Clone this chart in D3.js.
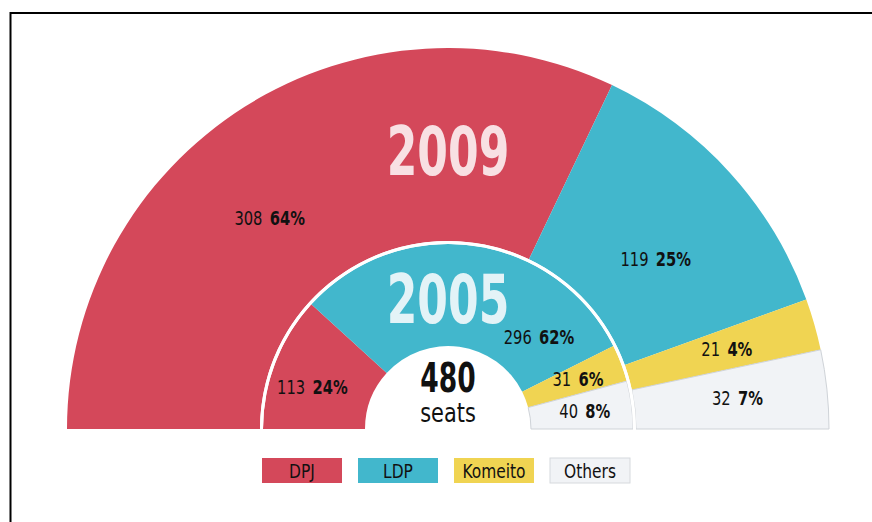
<!DOCTYPE html>
<html>
<head>
<meta charset="utf-8">
<script src="https://cdn.jsdelivr.net/npm/d3@7"></script>
<style>
body { margin: 0; background: #fff; }
svg { display: block; font-family: "DejaVu Sans", sans-serif; font-stretch: condensed; }
</style>
</head>
<body>
<script>
// data
var parties = ['DPJ', 'LDP', 'Komeito', 'Others'];
var colors = ['#d4485a', '#42b7cc', '#f0d452', '#f1f3f6'];
var seats2009 = [308, 119, 21, 32];
var seats2005 = [113, 296, 31, 40];
var totalSeats = 480;

var svg = d3.select('body')
    .append('svg')
    .attr('width', 872)
    .attr('height', 522);

// frame
svg.append('path')
    .attr('d', 'M10.5,530V13H880')
    .attr('fill', 'none')
    .attr('stroke', '#000')
    .attr('stroke-width', 2);

var cx = 448, cy = 429;
var g = svg.append('g').attr('transform', 'translate(' + cx + ',' + cy + ')');

// squeeze text horizontally to get the narrow newspaper look
var narrowBold = 0.72, narrowReg = 0.86;
function place(sel, x, y, sx) {
    return sel.attr('transform', 'translate(' + x + ',' + y + ') scale(' + sx + ',1)');
}

var pie = d3.pie().sort(null)
    .startAngle(-Math.PI / 2)
    .endAngle(Math.PI / 2)
    .value(function (d) { return d; });

// ring geometry + label tweaks (angle shift in degrees, label radius)
var rings = [
    {year: '2009', values: seats2009, inner: 188, outer: 381, labelRs: [276, 268, 290, 291], shift: [-8, 3, 0, 0], yearY: -254},
    {year: '2005', values: seats2005, inner: 83, outer: 185, labelRs: [142, 129, 139, 138], shift: [-4, 37, 0, 0], yearY: -106}
];

var pct = function (v) { return Math.round(v / totalSeats * 100) + '%'; };

rings.forEach(function (ring) {
    var arcs = pie(ring.values);
    var arc = d3.arc().innerRadius(ring.inner).outerRadius(ring.outer);

    g.append('g')
        .selectAll('path')
        .data(arcs)
        .enter()
        .append('path')
        .attr('d', arc)
        .attr('fill', function (d, i) { return colors[i]; })
        .attr('stroke', function (d, i) { return i === 3 ? '#cfd3d8' : 'none'; })
        .attr('stroke-width', 1);

    // labels
    arcs.forEach(function (d, i) {
        var a = (d.startAngle + d.endAngle) / 2 + ring.shift[i] * Math.PI / 180;
        var r = ring.labelRs[i];
        var p = d3.arc().innerRadius(r).outerRadius(r).centroid({startAngle: a, endAngle: a});
        var t = g.append('text')
            .attr('dy', '0.35em')
            .attr('text-anchor', 'middle')
            .style('font-size', '19px')
            .attr('fill', '#111');
        place(t, p[0], p[1], narrowReg);
        t.append('tspan').text(d.data + '\u2002');
        t.append('tspan').style('font-weight', 'bold').text(pct(d.data));
    });

    // year
    var yt = g.append('text')
        .attr('text-anchor', 'middle')
        .style('font-size', '68px')
        .style('font-weight', 'bold')
        .attr('fill', ring.year === '2009' ? '#f8e0e3' : '#e3f3f7')
        .text(ring.year);
    place(yt, 0, ring.yearY, narrowBold);
});

// white separator between rings
g.append('path')
    .attr('d', d3.arc().innerRadius(185).outerRadius(188).startAngle(-Math.PI / 2).endAngle(Math.PI / 2))
    .attr('fill', '#fff');

// centre
place(g.append('text')
    .attr('text-anchor', 'middle')
    .style('font-size', '41px')
    .style('font-weight', 'bold')
    .attr('fill', '#111')
    .text(totalSeats), 0, -37, narrowBold);
place(g.append('text')
    .attr('text-anchor', 'middle')
    .style('font-size', '27px')
    .attr('fill', '#111')
    .text('seats'), 0, -7, narrowReg);

// legend
var legendX = d3.scaleBand().domain(parties).range([262, 630]).paddingInner(1 / 6);
var legend = svg.selectAll('.legend')
    .data(parties)
    .enter()
    .append('g')
    .attr('transform', function (d) { return 'translate(' + legendX(d) + ',458)'; });
legend.append('rect')
    .attr('width', legendX.bandwidth())
    .attr('height', 25)
    .attr('fill', function (d, i) { return colors[i]; })
    .attr('stroke', function (d, i) { return i === 3 ? '#d6d9dd' : 'none'; });
legend.each(function () {
    var t = d3.select(this).append('text')
        .attr('dy', '0.36em')
        .attr('text-anchor', 'middle')
        .style('font-size', '20px')
        .attr('fill', '#111')
        .text(function (d) { return d; });
    place(t, legendX.bandwidth() / 2, 13, narrowReg);
});
</script>
</body>
</html>
